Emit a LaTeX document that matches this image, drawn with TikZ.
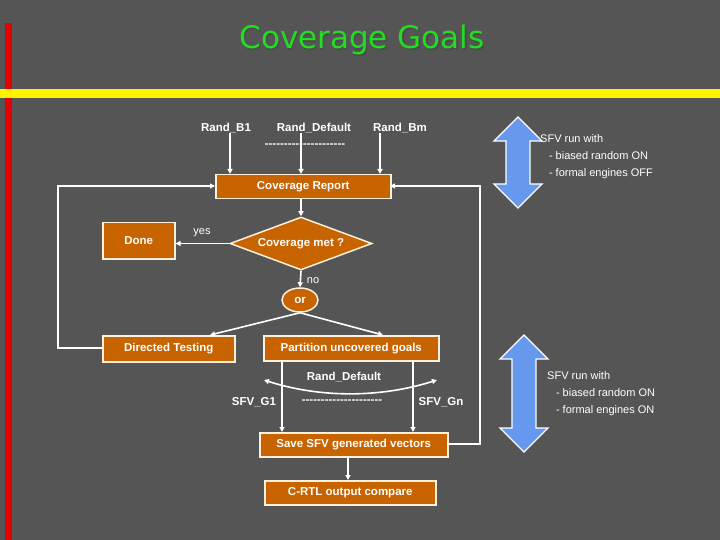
\documentclass[tikz,border=0pt]{standalone}
\usepackage{fontspec}
\setmainfont{Liberation Sans}
\newfontfamily\titlefont{DejaVu Sans}
\usetikzlibrary{shapes.geometric,arrows.meta}
\definecolor{bg}{HTML}{555555}
\definecolor{org}{HTML}{C86400}
\definecolor{edge}{HTML}{FFF0DC}
\definecolor{ttl}{HTML}{22DD22}
\definecolor{blu}{HTML}{6699EE}
\begin{document}
\begin{tikzpicture}[x=1pt,y=-1pt,
  box/.style={draw=edge,line width=1.5pt,fill=org,text=white,font=\bfseries\fontsize{11.5}{13}\selectfont,inner sep=0pt,anchor=north west},
  ln/.style={draw=white,line width=1.6pt},
  arr/.style={ln,-{Triangle[length=5pt,width=5pt]}},
  lbl/.style={text=white,font=\bfseries\fontsize{11.5}{13}\selectfont,inner sep=0pt},
  sm/.style={text=white,font=\fontsize{11}{17}\selectfont,inner sep=0pt},
  blk/.style={draw=white,line width=1.3pt,fill=blu,line join=miter}]
\fill[bg] (0,0) rectangle (720,540);
\useasboundingbox (0,0) rectangle (720,540);
\fill[red!90!black] (5,23) rectangle (12,540);
\fill[yellow] (0,89) rectangle (720,98);
\node[text=black!70,font=\titlefont\fontsize{31}{34}\selectfont] (tshadow) at (363.5,41.5) {Coverage Goals};
\node[text=ttl,font=\titlefont\fontsize{31}{34}\selectfont] (title) at (362,40) {Coverage Goals};
\node[lbl] (rb1) at (226,128) {Rand\_B1};
\node[lbl] (rdef) at (314,128) {Rand\_Default};
\node[lbl] (rbm) at (400,128) {Rand\_Bm};
\node[lbl] (dash1) at (305,146) {-{}-{}-{}-{}-{}-{}-{}-{}-{}-{}-{}-{}-{}-{}-{}-{}-{}-{}-{}-{}-};
\node[box,minimum width=175pt,minimum height=24pt] (cr) at (215,174) {Coverage Report};
\coordinate (c1) at (230,133); \coordinate (c2) at (301,133); \coordinate (c3) at (380,133);
\draw[arr] (c1) -- (c1 |- cr.north);
\draw[arr] (c2) -- (c2 |- cr.north);
\draw[arr] (c3) -- (c3 |- cr.north);
\node[diamond,draw=edge,line width=1.5pt,fill=org,text=white,font=\bfseries\fontsize{11.5}{13}\selectfont,inner sep=0pt,minimum width=142pt,minimum height=53pt,aspect=2.7] (cm) at (301,243.5) {Coverage met ?};
\node[box,minimum width=72pt,minimum height=36pt] (done) at (102,222) {Done};
\node[sm] (yes) at (202,233) {yes};
\draw[arr] (cr.south -| cm.north) -- (cm.north);
\draw[arr] (cm.west) -- (cm.west -| done.east);
\node[ellipse,draw=edge,line width=1.5pt,fill=org,text=white,font=\bfseries\fontsize{11.5}{13}\selectfont,inner sep=0pt,minimum width=36pt,minimum height=24pt] (or) at (300,300) {or};
\draw[arr] (cm.south) -- (or.north);
\node[sm] (no) at (313,281) {no};
\node[box,minimum width=132pt,minimum height=26pt] (dt) at (102,335) {Directed Testing};
\node[box,minimum width=175pt,minimum height=25pt] (pg) at (263,335) {Partition uncovered goals};
\draw[arr] (or.south) -- (210,335);
\draw[arr] (or.south) -- (383,335);
\node[box,minimum width=188pt,minimum height=24pt] (sv) at (259,432) {Save SFV generated vectors};
\node[box,minimum width=171pt,minimum height=24pt] (ct) at (264,480) {C-RTL output compare};
\draw[arr] (282,360) -- (282,432);
\draw[arr] (413,360) -- (413,432);
\draw[arr] (348,456) -- (348,480);
\node[lbl] (rd2) at (344,377) {Rand\_Default};
\draw[ln,{Triangle[length=5pt,width=5pt]}-{Triangle[length=5pt,width=5pt]}] (264,380) .. controls (320,398) and (380,398) .. (437,380);
\node[lbl] (g1) at (254,402) {SFV\_G1};
\node[lbl] (dash2) at (342,402) {-{}-{}-{}-{}-{}-{}-{}-{}-{}-{}-{}-{}-{}-{}-{}-{}-{}-{}-{}-{}-};
\node[lbl] (gn) at (441,402) {SFV\_Gn};
\draw[arr] (102,348) -- (58,348) -- (58,186) -- (215,186);
\draw[arr] (447,444) -- (480,444) -- (480,186) -- (390,186);
\draw[blk] (518,117) -- (542,141) -- (530,141) -- (530,184) -- (542,184) -- (518,208) -- (494,184) -- (506,184) -- (506,141) -- (494,141) -- cycle;
\draw[blk] (524,335) -- (548,359) -- (536,359) -- (536,428) -- (548,428) -- (524,452) -- (500,428) -- (512,428) -- (512,359) -- (500,359) -- cycle;
\node[sm,align=left,anchor=north west] (t1) at (540,134) {SFV run with\\\hspace{0.8em}- biased random ON\\\hspace{0.8em}- formal engines OFF};
\node[sm,align=left,anchor=north west] (t2) at (547,371) {SFV run with\\\hspace{0.8em}- biased random ON\\\hspace{0.8em}- formal engines ON};
\end{tikzpicture}
\end{document}
